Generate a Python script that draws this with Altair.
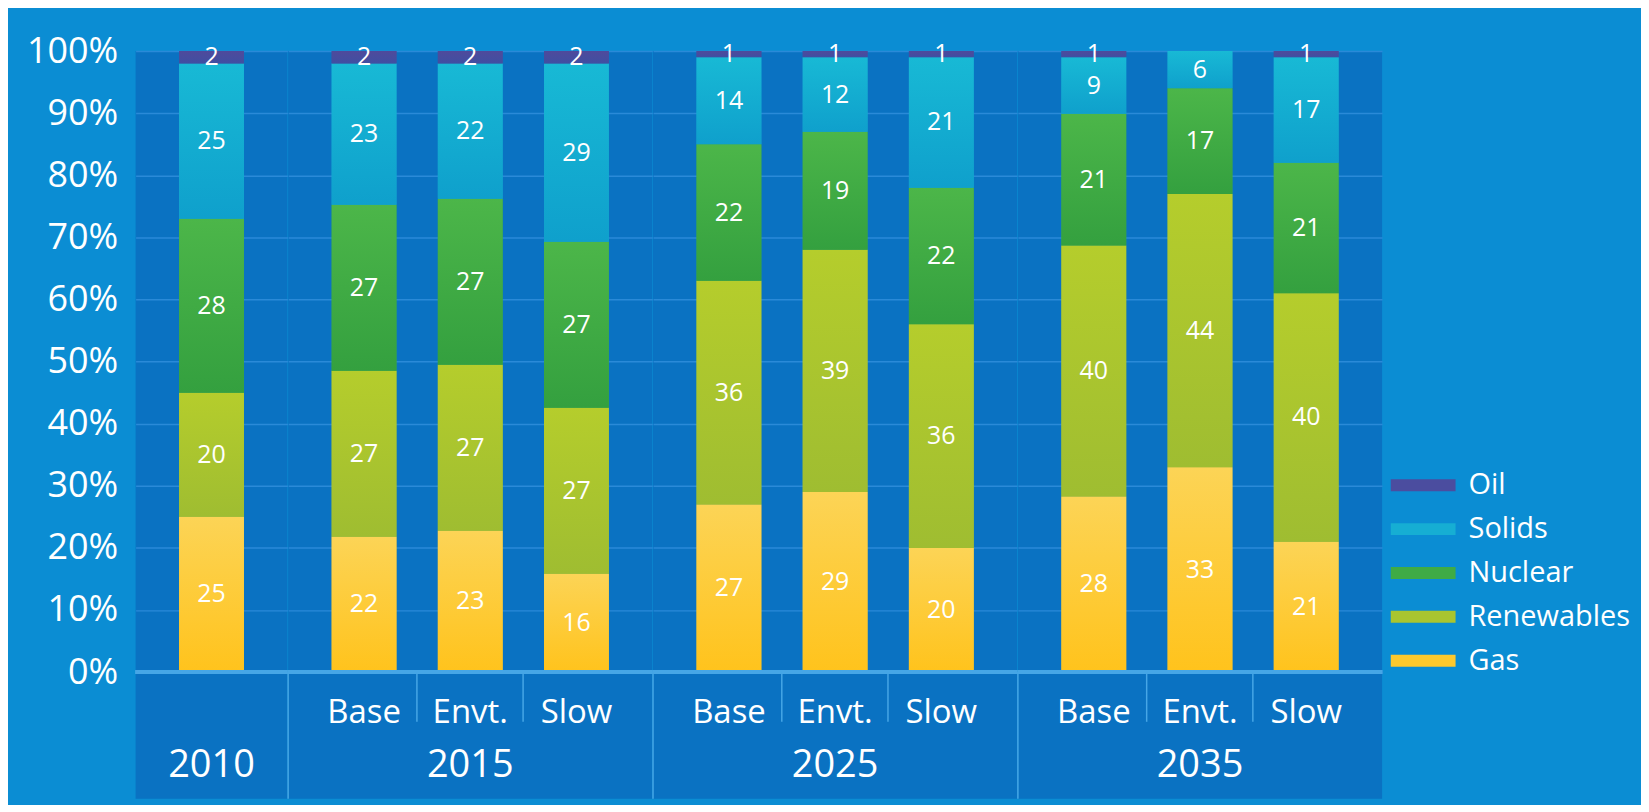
import altair as alt
import pandas as pd

# ---------------- data ----------------
series = ["Gas", "Renewables", "Nuclear", "Solids", "Oil"]          # stack order, bottom -> top
legend_order = ["Oil", "Solids", "Nuclear", "Renewables", "Gas"]
legend_colors = ["#4b4d9f", "#16aed3", "#3fab45", "#a9c52f", "#fdc92d"]

groups = ["2010", "2015", "2015", "2015", "2025", "2025", "2025", "2035", "2035", "2035"]
scenarios = ["2010", "Base", "Envt.", "Slow", "Base", "Envt.", "Slow", "Base", "Envt.", "Slow"]
scenario_labels = ["", "Base", "Envt.", "Slow", "Base", "Envt.", "Slow", "Base", "Envt.", "Slow"]

gas = [25, 22, 23, 16, 27, 29, 20, 28, 33, 21]
renewables = [20, 27, 27, 27, 36, 39, 36, 40, 44, 40]
nuclear = [28, 27, 27, 27, 22, 19, 22, 21, 17, 21]
solids = [25, 23, 22, 29, 14, 12, 21, 9, 6, 17]
oil = [2, 2, 2, 2, 1, 1, 1, 1, 0, 1]

y_ticks = [0, 0.1, 0.2, 0.3, 0.4, 0.5, 0.6, 0.7, 0.8, 0.9, 1.0]

# ---------------- tables ----------------
values = {"Gas": gas, "Renewables": renewables, "Nuclear": nuclear, "Solids": solids, "Oil": oil}
rows = []
for i, (g, s, lab) in enumerate(zip(groups, scenarios, scenario_labels)):
    for k, name in enumerate(series):
        rows.append({"group": g, "scenario": s, "label": lab, "series": name,
                     "order": k, "value": values[name][i]})
df = pd.DataFrame(rows)

FONT = "Open Sans"
BG = "#0b8dd3"
PANEL = "#0a72c2"
GRID = "#2a8ad8"
LINE = "#46a6e6"

# subtle vertical shading of each segment (top colour, bottom colour)
shades = {
    "Gas": ("#fcd456", "#ffc31c"),
    "Renewables": ("#b5cd2c", "#9fbd31"),
    "Nuclear": ("#4cb649", "#34a03f"),
    "Solids": ("#18b9d5", "#0fa0cc"),
    "Oil": ("#4f4a9c", "#3f4fa2"),
}

group_names = ["2010", "2015", "2025", "2035"]

ymin = -0.204
yscale = alt.Scale(domain=[ymin, 1.0], nice=False, zero=False)


def gradient(top, bottom):
    return alt.LinearGradient(
        gradient="linear", x1=0, y1=0, x2=0, y2=1,
        stops=[alt.GradientStop(color=top, offset=0), alt.GradientStop(color=bottom, offset=1)],
    )


def panel(g, first):
    sc = [s for gg, s in zip(groups, scenarios) if gg == g]
    labs = [l for gg, l in zip(groups, scenario_labels) if gg == g]
    d = df[df.group == g]
    xs = alt.Scale(paddingInner=0.39, paddingOuter=0.41)
    xenc = alt.X("scenario:N", sort=sc, scale=xs, axis=None)

    if first:
        yaxis = alt.Axis(values=y_ticks, format=".0%", labelFontSize=36, labelColor="white",
                         labelFont=FONT, labelPadding=18, ticks=False, domain=False,
                         grid=True, gridColor=GRID, gridWidth=1.5, title=None)
    else:
        yaxis = alt.Axis(values=y_ticks, labels=False, ticks=False, domain=False,
                         grid=True, gridColor=GRID, gridWidth=1.5, title=None)

    stacked = alt.Chart(d).transform_stack(
        stack="value", groupby=["scenario"], as_=["v0", "v1"],
        offset="normalize", sort=[alt.SortField("order")]
    )

    bars = stacked.mark_bar().encode(
        x=xenc,
        y=alt.Y("v0:Q", scale=yscale, axis=yaxis),
        y2="v1:Q",
        color=alt.Color(
            "series:N",
            scale=alt.Scale(domain=legend_order, range=legend_colors),
            legend=alt.Legend(
                orient="none", legendX=1275, legendY=419, title=None,
                symbolType="M-2,-0.37H2V0.37H-2Z", symbolSize=1056,
                symbolStrokeWidth=0, symbolOpacity=1,
                labelFont=FONT, labelFontSize=29, labelColor="white",
                labelOffset=29, rowPadding=12, labelLimit=400,
            ),
        ),
    )

    shaded = []
    for name in series:
        top, bottom = shades[name]
        shaded.append(
            stacked.transform_filter(alt.datum.series == name).mark_bar(
                fill=gradient(top, bottom)
            ).encode(
                x=xenc,
                y=alt.Y("v0:Q", scale=yscale, axis=yaxis),
                y2="v1:Q",
            )
        )

    seg_text = stacked.transform_calculate(
        mid="(datum.v0 + datum.v1) / 2"
    ).transform_filter("datum.value > 0").mark_text(
        font=FONT, fontSize=25, color="white", baseline="middle", align="center"
    ).encode(
        x=xenc,
        y=alt.Y("mid:Q", scale=yscale, axis=yaxis),
        text="value:Q",
    )

    zero_line = alt.Chart(d).mark_rule(color=LINE, strokeWidth=4).encode(
        y=alt.Y(datum=0, scale=yscale, axis=yaxis)
    )

    sub_df = pd.DataFrame({"scenario": sc, "label": labs})
    sub_text = alt.Chart(sub_df).mark_text(
        font=FONT, fontSize=33, color="white", baseline="middle", align="center"
    ).encode(
        x=xenc,
        y=alt.Y(datum=-0.066, scale=yscale, axis=yaxis),
        text="label:N",
    )

    center = sc[len(sc) // 2]
    grp_df = pd.DataFrame({"scenario": [center], "group": [g]})
    grp_text = alt.Chart(grp_df).mark_text(
        font=FONT, fontSize=38, color="white", baseline="middle", align="center"
    ).encode(
        x=xenc,
        y=alt.Y(datum=-0.152, scale=yscale, axis=yaxis),
        text="group:N",
    )

    layers = [bars] + shaded + [zero_line, seg_text, sub_text, grp_text]

    if len(sc) > 1:
        div_df = pd.DataFrame({"scenario": sc[1:]})
        sub_div = alt.Chart(div_df).mark_rule(color=LINE, strokeWidth=1.5, xOffset=-21).encode(
            x=alt.X("scenario:N", sort=sc, scale=xs, axis=None, bandPosition=0),
            y=alt.Y(datum=0, scale=yscale, axis=yaxis),
            y2=alt.datum(-0.08),
        )
        layers.append(sub_div)

    if not first:
        gdiv = alt.Chart(grp_df).mark_rule(color=LINE, strokeWidth=1.5).encode(
            x=alt.value(0),
            y=alt.Y(datum=0, scale=yscale, axis=yaxis),
            y2=alt.datum(ymin),
        )
        layers.append(gdiv)

    return alt.layer(*layers).properties(width=alt.Step(106.5), height=750)


panels = [panel(g, i == 0) for i, g in enumerate(group_names)]

chart = alt.hconcat(*panels, spacing=0, bounds="flush").resolve_scale(
    color="shared"
).properties(
    background=BG,
    padding={"left": 18, "top": 24, "right": 10, "bottom": 4},
).configure_view(
    stroke=None, fill=PANEL
)

chart.save("out.html", embed_options={"renderer": "svg", "actions": False})
